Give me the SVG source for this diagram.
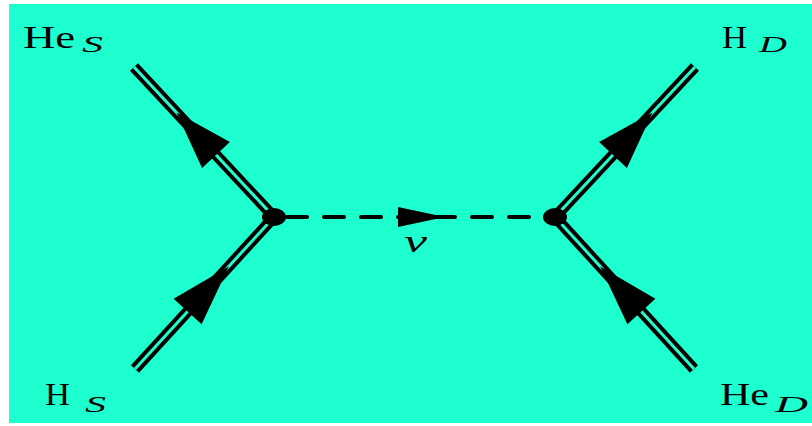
<svg xmlns="http://www.w3.org/2000/svg" width="812" height="426" viewBox="0 0 812 426">
<style>
.outer{fill:none;stroke:#000;stroke-width:11;stroke-linecap:butt}
.inner{fill:none;stroke:#1effd0;stroke-width:3;stroke-linecap:butt}
.arr{fill:#000}
.dash{fill:none;stroke:#000;stroke-width:4;stroke-dasharray:20 17;stroke-linecap:round}
.lbl{font-family:"Liberation Serif","DejaVu Serif",serif;font-size:32px;fill:#000}
.sub{font-family:"Liberation Serif","DejaVu Serif",serif;font-style:italic;font-size:24px;fill:#000}
.nu{font-family:"Liberation Serif","DejaVu Serif",serif;font-style:italic;font-size:32px;fill:#000}
</style>
<rect x="0" y="0" width="812" height="426" fill="#fff"/>
<rect x="9" y="4" width="803" height="419" fill="#1effd0"/>
<g id="connectors">
  <g id="line-HeS">
    <path class="outer" d="M274 217 L134 67"/>
    <path class="inner" d="M274 217 L134 67"/>
    <polygon class="arr" points="176.5,112.5 229.9,141.9 202.1,167.9"/>
  </g>
  <g id="line-HS">
    <path class="outer" d="M274 217 L135 369"/>
    <path class="inner" d="M274 217 L135 369"/>
    <polygon class="arr" points="228.8,266.4 201.6,324.3 173.6,298.7"/>
  </g>
  <g id="line-HD">
    <path class="outer" d="M555 217 L695 67"/>
    <path class="inner" d="M555 217 L695 67"/>
    <polygon class="arr" points="652.5,112.5 599.1,141.9 626.9,167.9"/>
  </g>
  <g id="line-HeD">
    <path class="outer" d="M555 217 L694 369"/>
    <path class="inner" d="M555 217 L694 369"/>
    <polygon class="arr" points="600.2,266.4 627.4,324.3 655.4,298.7"/>
  </g>
  <g id="line-nu">
    <path class="dash" d="M287 217 L555 217"/>
    <polygon class="arr" points="398,207 398,227 445,217"/>
  </g>
</g>
<g id="vertex-left"><ellipse cx="274" cy="217" rx="12" ry="9"/></g>
<g id="vertex-right"><ellipse cx="555" cy="217" rx="12" ry="9"/></g>
<g id="label-HeS"><text class="lbl" x="23" y="48" textLength="52" lengthAdjust="spacingAndGlyphs">He</text><text class="sub" x="82" y="52" textLength="21" lengthAdjust="spacingAndGlyphs">S</text></g>
<g id="label-HS"><text class="lbl" x="45" y="405" textLength="25" lengthAdjust="spacingAndGlyphs">H</text><text class="sub" x="85" y="412" textLength="21" lengthAdjust="spacingAndGlyphs">S</text></g>
<g id="label-HD"><text class="lbl" x="722" y="48" textLength="25" lengthAdjust="spacingAndGlyphs">H</text><text class="sub" x="759" y="52" textLength="28" lengthAdjust="spacingAndGlyphs">D</text></g>
<g id="label-HeD"><text class="lbl" x="720" y="405" textLength="49" lengthAdjust="spacingAndGlyphs">He</text><text class="sub" x="775" y="412" textLength="33" lengthAdjust="spacingAndGlyphs">D</text></g>
<g id="label-nu"><text class="nu" x="404" y="252" textLength="23" lengthAdjust="spacingAndGlyphs">ν</text></g>
</svg>
